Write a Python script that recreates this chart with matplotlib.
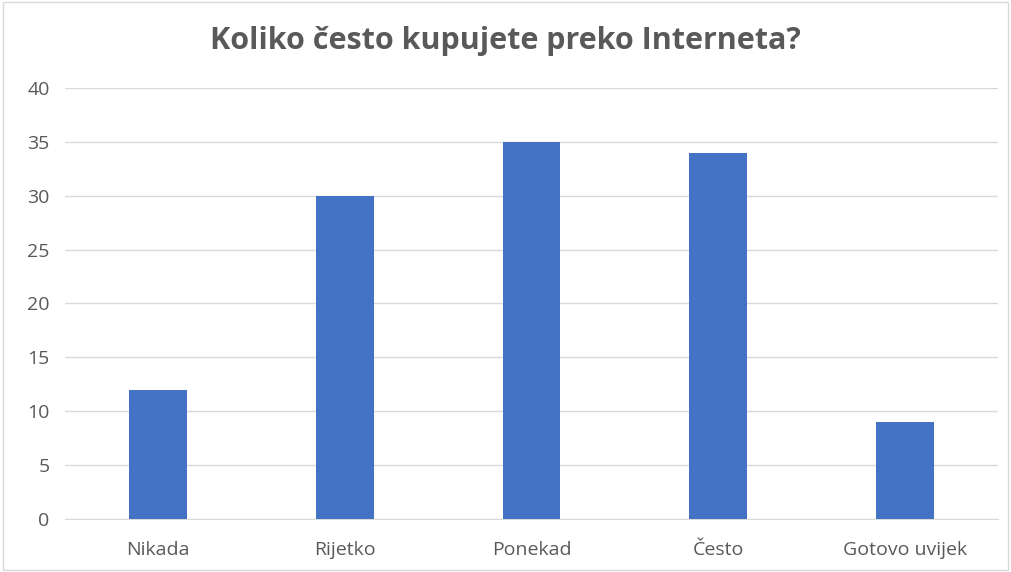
import matplotlib.pyplot as plt
from matplotlib.patches import Rectangle

# Survey answers
categories = ['Nikada', 'Rijetko', 'Ponekad', 'Često', 'Gotovo uvijek']
counts = [12, 30, 35, 34, 9]
y_ticks = [0, 5, 10, 15, 20, 25, 30, 35, 40]

plt.rcParams['font.family'] = ['Open Sans', 'DejaVu Sans']

fig = plt.figure(figsize=(10.11, 5.72), dpi=100)
ax = fig.add_axes([65 / 1011, 53 / 572, 933 / 1011, 431 / 572])

x = range(len(categories))
ax.bar(x, counts, width=0.31, color='#4472C4', zorder=3)

ax.set_xlim(-0.5, len(categories) - 0.5)
ax.set_ylim(0, 40)
ax.set_yticks(y_ticks)
ax.set_xticks(list(x))
ax.set_xticklabels(categories)

ax.grid(axis='y', color='#d9d9d9', linewidth=1, zorder=0)
for side in ['top', 'right', 'left']:
    ax.spines[side].set_visible(False)
ax.spines['bottom'].set_color('#d9d9d9')
ax.tick_params(axis='both', length=0, labelsize=14, colors='#595959')
ax.tick_params(axis='x', pad=16)
ax.tick_params(axis='y', pad=11)

fig.suptitle('Koliko često kupujete preko Interneta?', fontsize=22,
             fontweight='bold', color='#595959', y=0.955)

# light frame around the chart
fig.patches.append(Rectangle((0.003, 0.004), 0.994, 0.992, transform=fig.transFigure,
                             fill=False, edgecolor='#d9d9d9', linewidth=1))

fig.savefig('out.png', dpi=100)
